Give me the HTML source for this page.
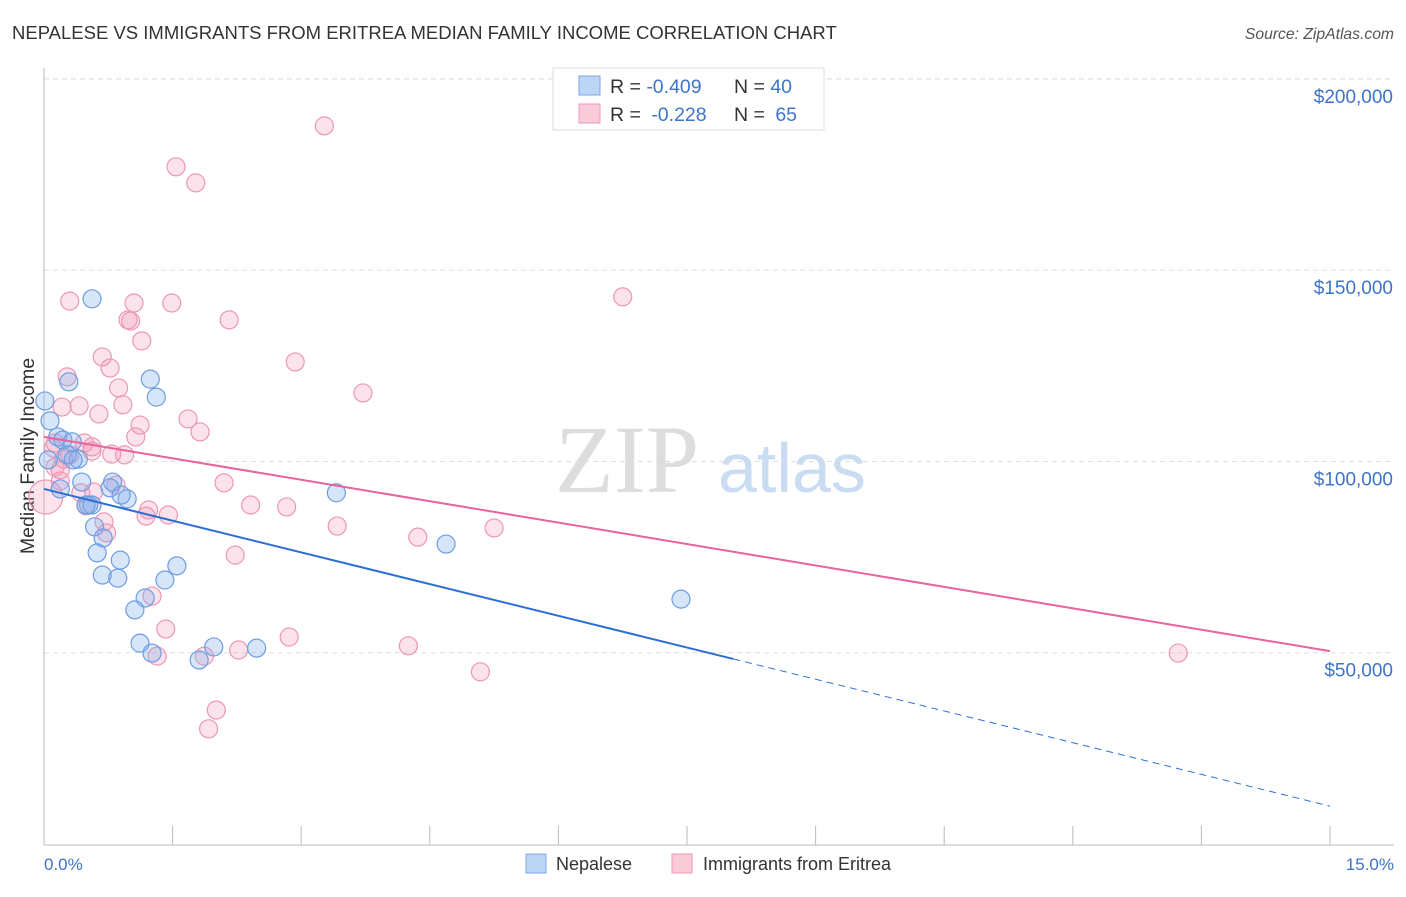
<!DOCTYPE html>
<html><head><meta charset="utf-8"><style>
body{margin:0;background:#fff;font-family:"Liberation Sans",sans-serif;}
</style></head><body>
<svg width="1406" height="892" xmlns="http://www.w3.org/2000/svg" font-family="Liberation Sans, sans-serif">
<text x="12" y="39" font-size="18.5" fill="#333">NEPALESE VS IMMIGRANTS FROM ERITREA MEDIAN FAMILY INCOME CORRELATION CHART</text>
<text x="1394" y="39" font-size="15.7" fill="#555" font-style="italic" text-anchor="end">Source: ZipAtlas.com</text>
<g id="grid"></g>
<text x="555" y="492" font-size="96" fill="#ddd" font-family="Liberation Serif, serif">ZIP</text>
<text x="718" y="492" font-size="70" fill="#c9dcf2">atlas</text>
<line x1="44" y1="68" x2="44" y2="845" stroke="#bbb"/>
<line x1="44" y1="845" x2="1394" y2="845" stroke="#bbb"/>
<g id="xticks"></g>
<text x="44" y="870" font-size="17" fill="#3d74c9">0.0%</text>
<text x="1394" y="870" font-size="17" fill="#3d74c9" text-anchor="end">15.0%</text>
<text transform="translate(34,456) rotate(-90)" font-size="19.5" fill="#333" text-anchor="middle">Median Family Income</text>
<g id="points"></g>
<g id="lines"></g>
<g>
<rect x="553" y="68" width="271" height="62" fill="#fff" stroke="#ddd"/>
<rect x="579" y="76" width="21" height="19" fill="#bcd5f5" stroke="#7aa7e6"/>
<rect x="579" y="104" width="21" height="19" fill="#f9cbd9" stroke="#ee9ab6"/>
<text x="610" y="93" font-size="19.5" fill="#333">R = <tspan fill="#3d74c9">-0.409</tspan><tspan x="734">N = </tspan><tspan fill="#3d74c9">40</tspan></text>
<text x="610" y="121" font-size="19.5" fill="#333">R = <tspan fill="#3d74c9" dx="5">-0.228</tspan><tspan x="734">N = </tspan><tspan fill="#3d74c9" dx="5">65</tspan></text>
</g>
<g>
<rect x="526" y="854" width="20" height="19" fill="#bcd5f5" stroke="#7aa7e6"/>
<text x="556" y="870" font-size="18" fill="#333">Nepalese</text>
<rect x="672" y="854" width="20" height="19" fill="#f9cbd9" stroke="#ee9ab6"/>
<text x="703" y="870" font-size="18" fill="#333">Immigrants from Eritrea</text>
</g>
</svg>
<script>
const yTicks=[50000,100000,150000,200000];
const yTickLabels=["$50,000","$100,000","$150,000","$200,000"];
const blueX=[0.56,0.29,1.24,1.31,0.01,0.07,0.16,0.22,0.33,0.40,0.27,0.44,0.80,0.77,0.19,0.52,0.49,0.97,0.59,0.69,0.62,0.89,1.55,0.68,0.86,1.41,1.18,1.06,3.41,4.69,7.43,1.12,1.26,1.81,1.98,2.48,0.34,0.05,0.90,0.56];
const blueY=[142.5,120.8,121.5,116.8,115.8,110.6,106.4,105.6,105.1,100.6,101.7,94.6,94.6,93.1,92.8,88.6,88.6,90.2,82.9,80.0,76.1,74.2,72.7,70.3,69.5,69.0,64.3,61.2,91.8,78.4,64.0,52.5,49.9,48.1,51.5,51.2,100.4,100.4,91.2,88.6];
const pinkX=[3.27,1.54,1.77,0.30,1.05,1.49,6.75,0.98,1.01,2.16,1.14,0.68,2.93,0.77,0.27,0.87,3.72,0.21,0.41,0.92,0.64,1.68,1.12,1.82,1.07,0.13,0.47,0.11,0.56,0.79,0.94,0.23,0.13,0.19,0.84,2.10,0.58,0.43,0.02,2.41,2.83,1.22,0.49,1.45,1.19,0.70,3.42,5.25,0.73,4.36,2.23,1.26,1.42,2.86,4.25,2.27,1.32,1.87,13.23,5.09,2.01,1.92,0.19,0.56,0.30];
const pinkY=[187.7,177.0,172.8,141.9,141.4,141.4,143.0,137.0,136.7,137.0,131.5,127.3,126.0,124.4,122.1,119.2,117.9,114.2,114.5,114.8,112.4,111.1,109.5,107.7,106.4,104.8,104.8,103.5,102.7,101.9,101.7,100.6,98.5,94.9,93.8,94.4,92.0,91.8,90.7,88.6,88.1,87.3,88.4,86.0,85.7,84.2,83.1,82.6,81.3,80.2,75.5,64.8,56.2,54.1,51.8,50.7,49.1,49.1,49.9,45.0,35.0,30.1,97.8,103.8,101.7];
const blueTrend=[92.8,9.9,8.04];
const pinkTrend=[106.4,50.4];
const NS="http://www.w3.org/2000/svg";
const X=v=>44+v/15*1286, Y=v=>844-v*1000/50000*191.3;
function mk(t,a,p){const e=document.createElementNS(NS,t);for(const k in a)e.setAttribute(k,a[k]);document.getElementById(p).appendChild(e);return e;}
yTicks.forEach((v,i)=>{
 const l=mk('line',{x1:44,x2:1394,y1:Y(v/1000),y2:Y(v/1000),stroke:'#ddd','stroke-dasharray':'5,4'},'grid');
 
 
 const t=mk('text',{x:1393,y:Y(v/1000)+24,'font-size':19,fill:'#3d74c9','text-anchor':'end'},'grid');
 t.textContent=yTickLabels[i];
 
 
});
mk('line',{x1:44,x2:1394,y1:79,y2:79,stroke:'#ddd','stroke-dasharray':'5,4'},'grid');
for(let i=1;i<=10;i++){
 const l=mk('line',{x1:X(i*1.5),x2:X(i*1.5),y1:826,y2:845,stroke:'#bbb'},'xticks');
 
 
}
pinkX.forEach((x,i)=>{
 const c=mk('circle',{cx:X(x),cy:Y(pinkY[i]),r:(x<0.05?17:9),fill:'rgba(242,150,182,0.28)',stroke:'#ec97b5','stroke-width':1.2},'points');
 
 
});
blueX.forEach((x,i)=>{
 const c=mk('circle',{cx:X(x),cy:Y(blueY[i]),r:9,fill:'rgba(130,175,235,0.32)',stroke:'#6d9de2','stroke-width':1.2},'points');
 
 
});
const bAt=x=>blueTrend[0]+(blueTrend[1]-blueTrend[0])*x/15;
let l=mk('line',{x1:X(0),y1:Y(bAt(0)),x2:X(blueTrend[2]),y2:Y(bAt(blueTrend[2])),stroke:'#2b6fd6','stroke-width':2},'lines');


l=mk('line',{x1:X(blueTrend[2]),y1:Y(bAt(blueTrend[2])),x2:X(15),y2:Y(bAt(15)),stroke:'#2b6fd6','stroke-width':1,'stroke-dasharray':'7,5'},'lines');


l=mk('line',{x1:X(0),y1:Y(pinkTrend[0]),x2:X(15),y2:Y(pinkTrend[1]),stroke:'#e8649a','stroke-width':2},'lines');


</script>
</body></html>
